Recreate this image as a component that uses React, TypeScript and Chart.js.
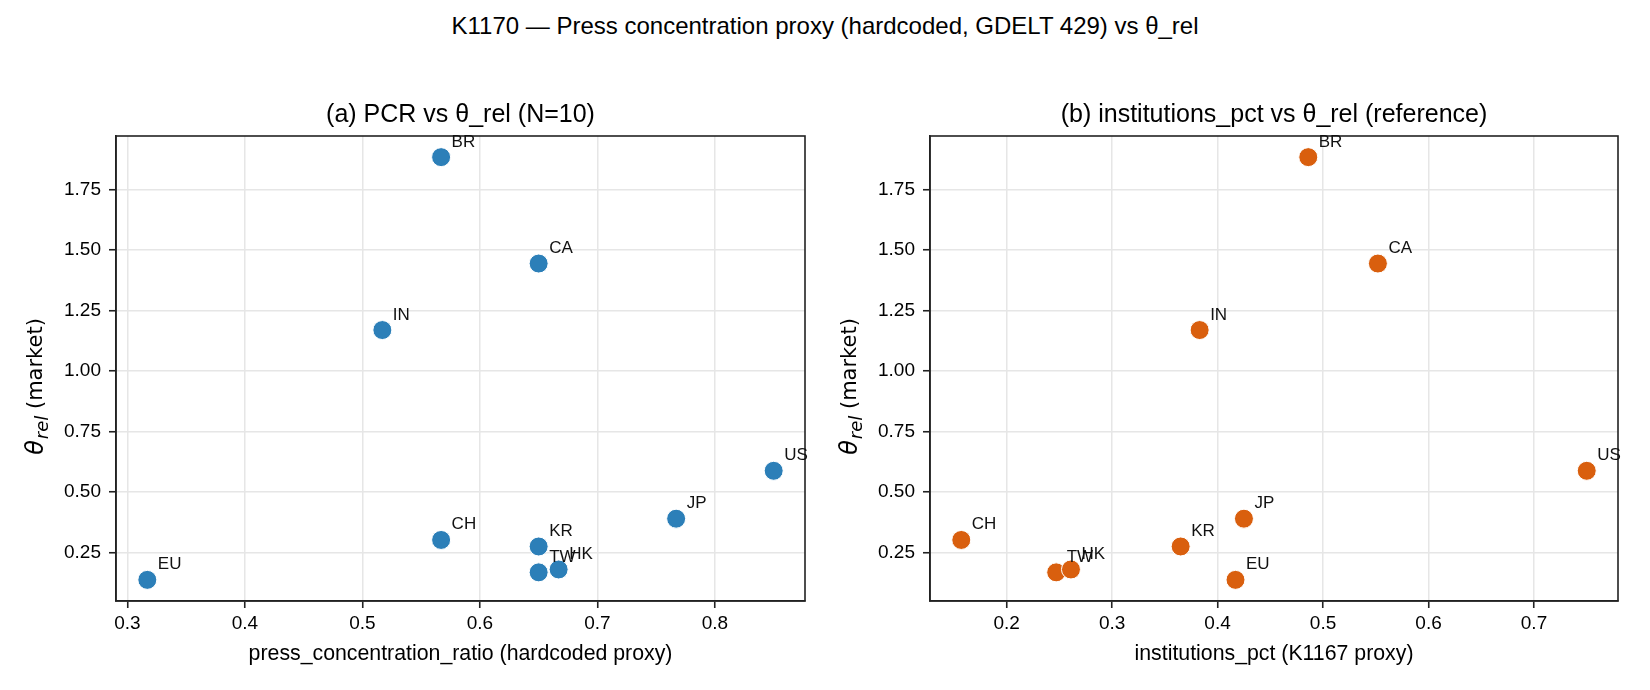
import React, { useEffect, useRef } from "react";
import { Chart, registerables } from "chart.js";

Chart.register(...registerables);

// ---- data ----
const countries = ["BR", "CA", "IN", "US", "JP", "CH", "KR", "TW", "HK", "EU"];
const thetaRel = [1.885, 1.445, 1.17, 0.588, 0.39, 0.302, 0.275, 0.168, 0.18, 0.137];
const pressConcentration = [0.567, 0.65, 0.517, 0.85, 0.767, 0.567, 0.65, 0.65, 0.667, 0.317];
const institutionsPct = [0.486, 0.552, 0.383, 0.75, 0.425, 0.157, 0.365, 0.247, 0.261, 0.417];

const thetaTicks = [0.25, 0.5, 0.75, 1.0, 1.25, 1.5, 1.75];
const thetaTickLabels = ["0.25", "0.50", "0.75", "1.00", "1.25", "1.50", "1.75"];
const pcrTicks = [0.3, 0.4, 0.5, 0.6, 0.7, 0.8];
const pcrTickLabels = ["0.3", "0.4", "0.5", "0.6", "0.7", "0.8"];
const instTicks = [0.2, 0.3, 0.4, 0.5, 0.6, 0.7];
const instTickLabels = ["0.2", "0.3", "0.4", "0.5", "0.6", "0.7"];

const suptitle = "K1170 \u2014 Press concentration proxy (hardcoded, GDELT 429) vs \u03b8_rel";
const titleA = "(a) PCR vs \u03b8_rel (N=10)";
const titleB = "(b) institutions_pct vs \u03b8_rel (reference)";
const xLabelA = "press_concentration_ratio (hardcoded proxy)";
const xLabelB = "institutions_pct (K1167 proxy)";

const BLUE = "#2c7fb8";
const ORANGE = "#d95f0e";
const FONT = "'Liberation Sans', Arial, Helvetica, sans-serif";

function padRange(vals: number[]) {
  const lo = Math.min(...vals);
  const hi = Math.max(...vals);
  const m = (hi - lo) * 0.05;
  return [lo - m, hi + m];
}

const framePlugin = {
  id: "frame",
  afterDatasetsDraw(chart: any) {
    const { ctx, chartArea } = chart;
    ctx.save();
    ctx.strokeStyle = "#222";
    ctx.lineWidth = 1.6;
    ctx.strokeRect(chartArea.left, chartArea.top, chartArea.right - chartArea.left, chartArea.bottom - chartArea.top);
    ctx.restore();
  },
};

const pointLabelPlugin = {
  id: "pointLabels",
  afterDatasetsDraw(chart: any) {
    const { ctx } = chart;
    const meta = chart.getDatasetMeta(0);
    ctx.save();
    ctx.font = `17px ${FONT}`;
    ctx.fillStyle = "#111";
    ctx.textAlign = "left";
    ctx.textBaseline = "alphabetic";
    meta.data.forEach((pt: any, i: number) => {
      ctx.fillText(countries[i], pt.x + 10.5, pt.y - 10.5);
    });
    ctx.restore();
  },
};

const yTitlePlugin = {
  id: "yTitle",
  afterDraw(chart: any) {
    const { ctx, chartArea } = chart;
    ctx.save();
    ctx.translate(chartArea.left - 79, 387);
    ctx.rotate(-Math.PI / 2);
    ctx.fillStyle = "#000";
    ctx.textBaseline = "middle";
    ctx.textAlign = "left";
    const f1 = `italic 24px 'DejaVu Sans', sans-serif`;
    const f2 = `italic 18px 'DejaVu Sans', sans-serif`;
    const f3 = `21px 'DejaVu Sans', sans-serif`;
    const p1 = "\u03b8";
    const p2 = "rel";
    const p3 = " (market)";
    ctx.font = f1;
    const w1 = ctx.measureText(p1).width;
    ctx.font = f2;
    const w2 = ctx.measureText(p2).width;
    ctx.font = f3;
    const w3 = ctx.measureText(p3).width;
    let x = -(w1 + w2 + w3) / 2;
    ctx.font = f1;
    ctx.fillText(p1, x, 0);
    x += w1 + 1;
    ctx.font = f2;
    ctx.fillText(p2, x, 6);
    x += w2;
    ctx.font = f3;
    ctx.fillText(p3, x, 0);
    ctx.restore();
  },
};

function makeConfig(
  xs: number[],
  color: string,
  title: string,
  xLabel: string,
  xTicks: number[],
  xTickLabels: string[],
  yWidth: number,
  rightPad: number
) {
  const [xmin, xmax] = padRange(xs);
  const [ymin, ymax] = padRange(thetaRel);
  const gridCommon = {
    color: "#e6e6e6",
    lineWidth: 1.5,
    tickColor: "#222",
    tickWidth: 1.6,
    tickLength: 7,
    drawTicks: true,
  };
  return {
    type: "scatter" as const,
    data: {
      datasets: [
        {
          data: xs.map((x, i) => ({ x, y: thetaRel[i] })),
          backgroundColor: color,
          borderColor: "#ffffff",
          borderWidth: 1,
          pointRadius: 9.5,
          pointHoverRadius: 9.5,
        },
      ],
    },
    options: {
      animation: false,
      responsive: false,
      events: [],
      layout: { padding: { top: 0, left: 0, right: rightPad, bottom: 0 } },
      plugins: {
        legend: { display: false },
        tooltip: { enabled: false },
        title: {
          display: true,
          text: title,
          fullSize: false,
          color: "#000",
          font: { family: FONT, size: 25, weight: "normal" },
          padding: { top: 100, bottom: 6 },
        },
      },
      scales: {
        x: {
          type: "linear",
          min: xmin,
          max: xmax,
          afterBuildTicks: (s: any) => {
            s.ticks = xTicks.map((v) => ({ value: v }));
          },
          afterFit: (s: any) => {
            s.height = 89;
          },
          grid: gridCommon,
          border: { display: true, color: "#222", width: 1.6 },
          ticks: {
            color: "#000",
            font: { family: FONT, size: 19 },
            padding: 4.5,
            maxRotation: 0,
            autoSkip: false,
            callback: (_v: any, i: number) => xTickLabels[i],
          },
          title: {
            display: true,
            text: xLabel,
            color: "#000",
            font: { family: FONT, size: 21.3 },
            padding: { top: 0, bottom: 23 },
          },
        },
        y: {
          type: "linear",
          min: ymin,
          max: ymax,
          afterBuildTicks: (s: any) => {
            s.ticks = thetaTicks.map((v) => ({ value: v }));
          },
          afterFit: (s: any) => {
            s.width = yWidth;
          },
          grid: gridCommon,
          border: { display: true, color: "#222", width: 1.6 },
          ticks: {
            color: "#000",
            font: { family: FONT, size: 19 },
            padding: 8,
            autoSkip: false,
            callback: (_v: any, i: number) => thetaTickLabels[i],
          },
          title: { display: false },
        },
      },
    },
    plugins: [framePlugin, pointLabelPlugin, yTitlePlugin],
  };
}

function Panel(props: {
  left: number;
  xs: number[];
  color: string;
  title: string;
  xLabel: string;
  xTicks: number[];
  xTickLabels: string[];
  yWidth: number;
  rightPad: number;
}) {
  const ref = useRef<HTMLCanvasElement | null>(null);
  useEffect(() => {
    if (!ref.current) return;
    const chart = new Chart(
      ref.current,
      makeConfig(
        props.xs,
        props.color,
        props.title,
        props.xLabel,
        props.xTicks,
        props.xTickLabels,
        props.yWidth,
        props.rightPad
      ) as any
    );
    return () => chart.destroy();
  }, []);
  return (
    <canvas
      ref={ref}
      width={825}
      height={690}
      style={{ position: "absolute", left: props.left, top: 0, width: 825, height: 690 }}
    />
  );
}

export default function App() {
  return (
    <div
      style={{
        position: "fixed",
        left: 0,
        top: 0,
        width: 1650,
        height: 690,
        background: "#ffffff",
        overflow: "hidden",
      }}
    >
      <div
        style={{
          position: "absolute",
          left: 0,
          top: 1,
          width: 1650,
          height: 50,
          lineHeight: "50px",
          textAlign: "center",
          fontFamily: FONT,
          fontSize: 24,
          color: "#000",
        }}
      >
        {suptitle}
      </div>
      <Panel
        left={0}
        xs={pressConcentration}
        color={BLUE}
        title={titleA}
        xLabel={xLabelA}
        xTicks={pcrTicks}
        xTickLabels={pcrTickLabels}
        yWidth={116}
        rightPad={20}
      />
      <Panel
        left={825}
        xs={institutionsPct}
        color={ORANGE}
        title={titleB}
        xLabel={xLabelB}
        xTicks={instTicks}
        xTickLabels={instTickLabels}
        yWidth={105}
        rightPad={32}
      />
    </div>
  );
}
